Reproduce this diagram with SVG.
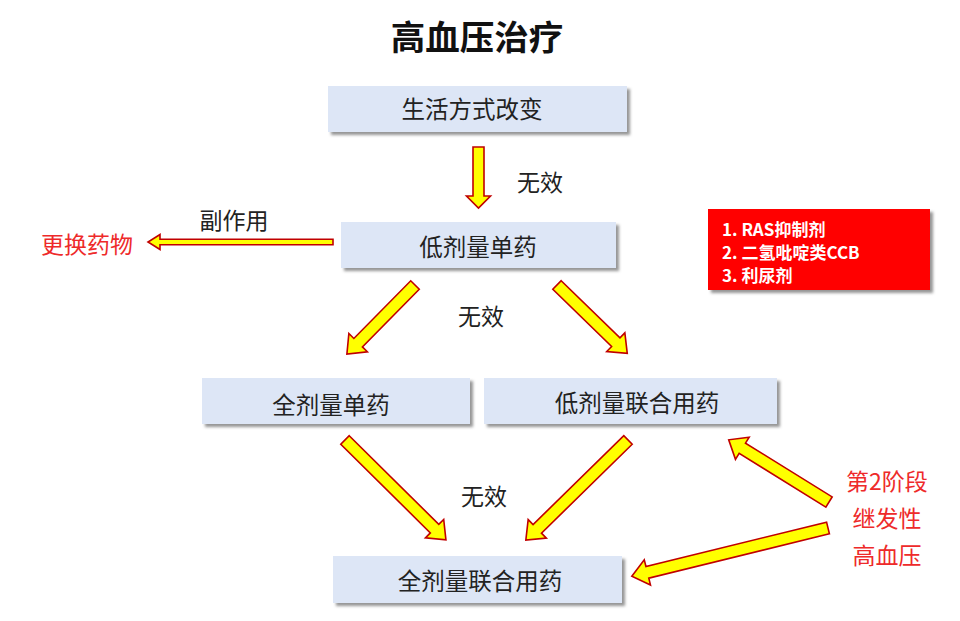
<svg xmlns="http://www.w3.org/2000/svg" width="960" height="621" viewBox="0 0 960 621">
<defs>
<filter id="sh" x="-10%" y="-20%" width="130%" height="160%">
<feDropShadow dx="3" dy="3" stdDeviation="1.5" flood-color="#7a7a7a" flood-opacity="0.8"/>
</filter>
<style>
text{font-family:"Noto Sans CJK SC","Noto Sans",sans-serif;}
.box{fill:#dde6f6;filter:url(#sh);}
.lbl{font-size:23.5px;fill:#222;text-anchor:middle;dominant-baseline:central;}
.note{font-size:23px;fill:#222;text-anchor:middle;dominant-baseline:central;}
.red{font-size:23px;fill:#ee2a2a;text-anchor:middle;dominant-baseline:central;}
.arr{fill:#ffff00;stroke:#c00000;stroke-width:1.6;stroke-linejoin:miter;}
.wt{font-size:17px;font-weight:bold;fill:#fff;dominant-baseline:central;}
</style>
</defs>
<rect width="960" height="621" fill="#fff"/>
<text x="477" y="35" font-size="34.5" font-weight="bold" text-anchor="middle" dominant-baseline="central" fill="#111">高血压治疗</text>

<g id="n1"><rect class="box" x="328" y="86" width="299" height="46"/><text class="lbl" x="472" y="108">生活方式改变</text></g>
<g id="n2"><rect class="box" x="341" y="222" width="275" height="46"/><text class="lbl" x="478" y="246">低剂量单药</text></g>
<g id="n3"><rect class="box" x="202" y="378" width="268" height="46"/><text class="lbl" x="331" y="404">全剂量单药</text></g>
<g id="n4"><rect class="box" x="484" y="378" width="293" height="46"/><text class="lbl" x="637" y="402">低剂量联合用药</text></g>
<g id="n5"><rect class="box" x="333" y="556" width="289" height="47"/><text class="lbl" x="480" y="580">全剂量联合用药</text></g>

<g id="drugs">
<rect x="708" y="209" width="222" height="81" fill="#ff0000" filter="url(#sh)"/>
<text class="wt" x="722" y="228">1. RAS抑制剂</text>
<text class="wt" x="722" y="251">2. 二氢吡啶类CCB</text>
<text class="wt" x="722" y="274">3. 利尿剂</text>
</g>

<g id="change"><text class="red" x="87" y="243">更换药物</text></g>
<g id="secondary">
<text class="red" x="887" y="480">第2阶段</text>
<text class="red" x="887" y="517">继发性</text>
<text class="red" x="887" y="554">高血压</text>
</g>

<g id="connectors">
<g transform="translate(478.5,147) rotate(90)"><polygon class="arr" points="0,-5.5 49,-5.5 49,-12 61,0 49,12 49,5.5 0,5.5"/></g>
<g transform="translate(333,242) rotate(180)"><polygon class="arr" points="0,-2.8 173,-2.8 173,-7.5 185,0 173,7.5 173,2.8 0,2.8"/></g>
<g transform="translate(415,285) rotate(134.6)"><polygon class="arr" points="0,-6 81,-6 81,-13 97,0 81,13 81,6 0,6"/></g>
<g transform="translate(557,285) rotate(44.2)"><polygon class="arr" points="0,-6 82,-6 82,-13 98,0 82,13 82,6 0,6"/></g>
<g transform="translate(345,440) rotate(44.7)"><polygon class="arr" points="0,-6 126,-6 126,-13 142,0 126,13 126,6 0,6"/></g>
<g transform="translate(628,440) rotate(135.6)"><polygon class="arr" points="0,-6 127,-6 127,-13 143,0 127,13 127,6 0,6"/></g>
<g transform="translate(829,502) rotate(211.8)"><polygon class="arr" points="0,-6 102,-6 102,-13 118,0 102,13 102,6 0,6"/></g>
<g transform="translate(828,528) rotate(166.2)"><polygon class="arr" points="0,-6 186,-6 186,-13 202,0 186,13 186,6 0,6"/></g>
<text class="note" x="540" y="181">无效</text>
<text class="note" x="234" y="219">副作用</text>
<text class="note" x="481" y="315">无效</text>
<text class="note" x="484" y="495">无效</text>
</g>
</svg>
